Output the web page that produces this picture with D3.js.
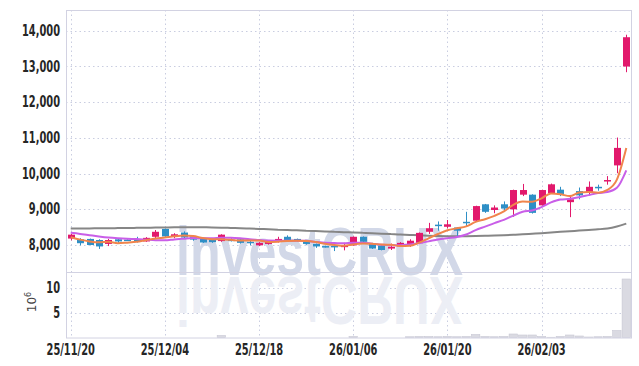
<!DOCTYPE html>
<html>
<head>
<meta charset="utf-8">
<script src="https://cdn.jsdelivr.net/npm/d3@7"></script>
<style>
  html, body { margin: 0; padding: 0; background: #fff; }
  svg { display: block; }
  .tick-label { font-family: "DejaVu Sans Condensed", "DejaVu Sans", sans-serif; font-stretch: condensed; font-weight: bold; font-size: 15px; fill: #262626; }
</style>
</head>
<body>
<div id="chart"></div>
<script>
"use strict";

// trading days shown
const dates = [
  "25/11/20","25/11/21","25/11/24","25/11/25","25/11/26","25/11/27","25/11/28",
  "25/12/01","25/12/02","25/12/03","25/12/04","25/12/05","25/12/08","25/12/09","25/12/10",
  "25/12/11","25/12/12","25/12/15","25/12/16","25/12/17","25/12/18","25/12/19","25/12/22",
  "25/12/23","25/12/24","25/12/26","25/12/29","25/12/30",
  "26/01/02","26/01/05","26/01/06","26/01/07","26/01/08","26/01/09","26/01/12","26/01/13",
  "26/01/14","26/01/15","26/01/16","26/01/19","26/01/20","26/01/21","26/01/22","26/01/23",
  "26/01/26","26/01/27","26/01/28","26/01/29","26/01/30",
  "26/02/02","26/02/03","26/02/04","26/02/05","26/02/06","26/02/09","26/02/10","26/02/11",
  "26/02/12","26/02/13","26/02/19"
];
const opens = [8180,8160,8170,8140,8030,8160,8150,8160,8100,8230,
  8450,8240,8350,8240,8180,8150,8110,8150,8160,8090,
  7990,8030,8120,8230,8170,8100,8030,7970,7975,7940,
  7990,8230,8050,7990,7900,7960,8010,8050,8370,8570,
  8510,8490,8650,8680,9140,8980,9140,9000,9410,9410,
  9110,9450,9550,9200,9510,9460,9630,9780,10230,13000];
const highs = [8310,8190,8180,8160,8170,8190,8160,8230,8220,8420,
  8460,8330,8380,8270,8200,8170,8300,8190,8170,8120,
  8080,8110,8230,8270,8180,8110,8040,7980,7980,8060,
  8240,8240,8060,8000,8040,8080,8160,8350,8620,8660,
  8700,8500,8930,9100,9150,9110,9220,9550,9710,9420,
  9550,9720,9630,9370,9610,9780,9690,9930,11010,13890];
const lows = [8130,7990,7990,7890,7970,8060,8120,8070,8090,8180,
  8230,8190,8180,8120,8060,8060,8090,8100,8040,7990,
  7970,8010,8070,8120,8100,8010,7920,7930,7830,7850,
  7980,8070,7890,7850,7860,7950,7950,8040,8310,8400,
  8460,8250,8510,8670,8900,8890,8960,8790,9370,8880,
  9100,9440,9370,8780,9280,9390,9520,9690,10010,12840];
const closes = [8290,8050,8000,7960,8140,8100,8130,8110,8200,8370,
  8240,8300,8210,8150,8070,8080,8290,8130,8060,8080,
  8060,8100,8170,8140,8110,8030,7960,7940,7965,7990,
  8230,8090,7900,7860,7950,8060,8120,8340,8470,8550,
  8580,8400,8610,9090,8930,9050,9020,9540,9540,8900,
  9540,9700,9430,9280,9390,9630,9600,9820,10720,13820];
// volume, millions of shares
const volumes = [0.06,0.05,0.05,0.06,0.05,0.04,0.04,0.05,0.05,0.08,
  0.07,0.06,0.05,0.05,0.05,0.06,0.5,0.06,0.05,0.05,
  0.05,0.05,0.06,0.05,0.05,0.05,0.06,0.05,0.05,0.06,
  0.3,0.08,0.08,0.08,0.08,0.08,0.25,0.3,0.3,0.25,
  0.3,0.25,0.3,0.7,0.3,0.25,0.3,0.8,0.6,0.6,
  0.3,0.15,0.3,0.6,0.4,0.2,0.25,0.3,1.5,11.8];
// moving averages
const ma5 = [8216,8150,8100,8075,8088,8050,8066,8088,8136,8182,
  8210,8244,8264,8254,8194,8162,8160,8144,8126,8128,
  8124,8086,8094,8110,8116,8110,8082,8036,8001,7977,
  8017,8043,8035,8014,8006,7972,7978,8066,8188,8308,
  8412,8468,8522,8646,8722,8816,8940,9126,9216,9210,
  9308,9444,9422,9370,9468,9486,9466,9544,9832,10718];
const ma10 = [8340,8310,8275,8240,8210,8190,8175,8165,8150,8135,
  8130,8155,8176,8195,8188,8186,8202,8204,8190,8161,
  8143,8123,8119,8118,8122,8117,8084,8065,8056,8047,
  8064,8063,8036,8008,7992,7995,8011,8051,8101,8157,
  8192,8223,8294,8417,8515,8614,8704,8824,8931,8966,
  9062,9192,9274,9293,9339,9397,9455,9483,9601,10093];
const maLong = [8460,8462,8465,8468,8470,8473,8476,8480,8484,8488,
  8492,8496,8498,8498,8496,8492,8486,8478,8470,8460,
  8450,8440,8430,8420,8410,8400,8390,8380,8370,8360,
  8350,8340,8330,8318,8306,8294,8282,8270,8260,8252,
  8246,8244,8246,8250,8256,8264,8274,8286,8300,8316,
  8332,8350,8368,8386,8404,8422,8440,8465,8520,8600];

const xTickLabels = ["25/11/20","25/12/04","25/12/18","26/01/06","26/01/20","26/02/03"];
const yTicks = [8000,9000,10000,11000,12000,13000,14000];
const volTicks = [5,10];

const W = 639, H = 366;
const plotLeft = 66, plotRight = 631, plotTop = 10, split = 272, plotBottom = 337.5;
const upColor = "#e2196c", downColor = "#2e8fc6";
const gridColor = "#c9cde0";
const squeeze = 0.73; // narrow look of the axis font

const svg = d3.select("#chart").append("svg").attr("width", W).attr("height", H);

const x = d3.scaleBand().domain(dates).range([plotLeft, plotRight]).padding(0);
const y = d3.scaleLinear().domain([8000, 14000]).range([245, 30.8]);
const yv = d3.scaleLinear().domain([0, 10]).range([338, 288]);
const cx = (i) => x(dates[i]) + x.bandwidth() / 2;

// grid
const grid = svg.append("g").attr("stroke", gridColor).attr("stroke-dasharray", "1.5,3");
grid.selectAll(".hy").data(yTicks).enter().append("line")
  .attr("x1", plotLeft).attr("x2", plotRight)
  .attr("y1", (d) => Math.round(y(d)) + 0.5).attr("y2", (d) => Math.round(y(d)) + 0.5);
grid.selectAll(".hv").data(volTicks).enter().append("line")
  .attr("x1", plotLeft).attr("x2", plotRight)
  .attr("y1", (d) => Math.round(yv(d)) + 0.5).attr("y2", (d) => Math.round(yv(d)) + 0.5);
grid.selectAll(".vx").data(xTickLabels).enter().append("line")
  .attr("x1", (d) => Math.round(cx(dates.indexOf(d))) + 0.5)
  .attr("x2", (d) => Math.round(cx(dates.indexOf(d))) + 0.5)
  .attr("y1", plotTop).attr("y2", plotBottom);

// watermark + reflection
const wm = svg.append("g").attr("font-family", "Liberation Sans, Arial, sans-serif")
  .attr("font-weight", "bold").attr("font-size", 68);
wm.append("text").attr("x", 176).attr("y", 275).attr("textLength", 287)
  .attr("lengthAdjust", "spacingAndGlyphs").attr("fill", "#d2d8e8").text("investCRUX");
wm.append("text").attr("x", 176).attr("y", -277).attr("transform", "scale(1,-1)")
  .attr("textLength", 287).attr("lengthAdjust", "spacingAndGlyphs")
  .attr("fill", "#eceef5").text("investCRUX");

// volume bars
svg.append("g").selectAll("rect").data(volumes).enter().append("rect")
  .attr("x", (d, i) => x(dates[i]) + 0.5)
  .attr("width", x.bandwidth() - 1)
  .attr("y", (d) => yv(d))
  .attr("height", (d) => plotBottom - yv(d))
  .attr("fill", "#dadae2").attr("stroke", "#c8c8d4").attr("stroke-width", 0.6);

// long MA
const line = (arr) => d3.line().x((d, i) => cx(i)).y((d) => y(d)).curve(d3.curveMonotoneX)(arr);
svg.append("path").attr("d", line(maLong)).attr("fill", "none")
  .attr("stroke", "#868686").attr("stroke-width", 2);

// candles
const candles = svg.append("g").selectAll("g").data(dates).enter().append("g");
const colorOf = (i) => closes[i] >= opens[i] ? upColor : downColor;
candles.append("line")
  .attr("x1", (d, i) => Math.round(cx(i)) + 0.5).attr("x2", (d, i) => Math.round(cx(i)) + 0.5)
  .attr("y1", (d, i) => y(highs[i])).attr("y2", (d, i) => y(lows[i]))
  .attr("stroke", (d, i) => colorOf(i)).attr("stroke-width", 1);
const bw = 7;
candles.append("rect")
  .attr("x", (d, i) => Math.round(cx(i)) + 0.5 - bw / 2)
  .attr("width", bw)
  .attr("y", (d, i) => y(Math.max(opens[i], closes[i])))
  .attr("height", (d, i) => Math.max(1.5, Math.abs(y(opens[i]) - y(closes[i]))))
  .attr("fill", (d, i) => colorOf(i));

// short MAs
svg.append("path").attr("d", line(ma10)).attr("fill", "none")
  .attr("stroke", "#c95ee8").attr("stroke-width", 2);
svg.append("path").attr("d", line(ma5)).attr("fill", "none")
  .attr("stroke", "#f0854c").attr("stroke-width", 2);

// frame
const frame = svg.append("g").attr("stroke", "#d2d2e2").attr("fill", "none");
frame.append("rect").attr("x", plotLeft + 0.5).attr("y", plotTop + 0.5)
  .attr("width", plotRight - plotLeft).attr("height", plotBottom - plotTop);
frame.append("line").attr("x1", plotLeft).attr("x2", plotRight).attr("y1", split + 0.5).attr("y2", split + 0.5);

// axes labels
svg.append("g").selectAll("text").data(yTicks).enter().append("text")
  .attr("class", "tick-label")
  .attr("transform", (d) => "translate(60," + y(d) + ") scale(" + squeeze + ",1)")
  .attr("text-anchor", "end").attr("dominant-baseline", "central")
  .text((d) => d3.format(",")(d));
svg.append("g").selectAll("text").data(volTicks).enter().append("text")
  .attr("class", "tick-label")
  .attr("transform", (d) => "translate(60," + yv(d) + ") scale(" + squeeze + ",1)")
  .attr("text-anchor", "end").attr("dominant-baseline", "central")
  .text((d) => d);
svg.append("g").selectAll("text").data(xTickLabels).enter().append("text")
  .attr("class", "tick-label")
  .attr("transform", (d) => "translate(" + cx(dates.indexOf(d)) + ",350) scale(" + squeeze + ",1)")
  .attr("text-anchor", "middle").attr("dominant-baseline", "central")
  .text((d) => d);

// volume unit
const unit = svg.append("text").attr("transform", "translate(36,302) rotate(-90)")
  .attr("font-family", "DejaVu Sans, sans-serif").attr("font-size", 12).attr("fill", "#444")
  .attr("text-anchor", "middle");
unit.append("tspan").text("10");
unit.append("tspan").attr("dy", -5).attr("font-size", 8).text("6");
</script>
</body>
</html>
